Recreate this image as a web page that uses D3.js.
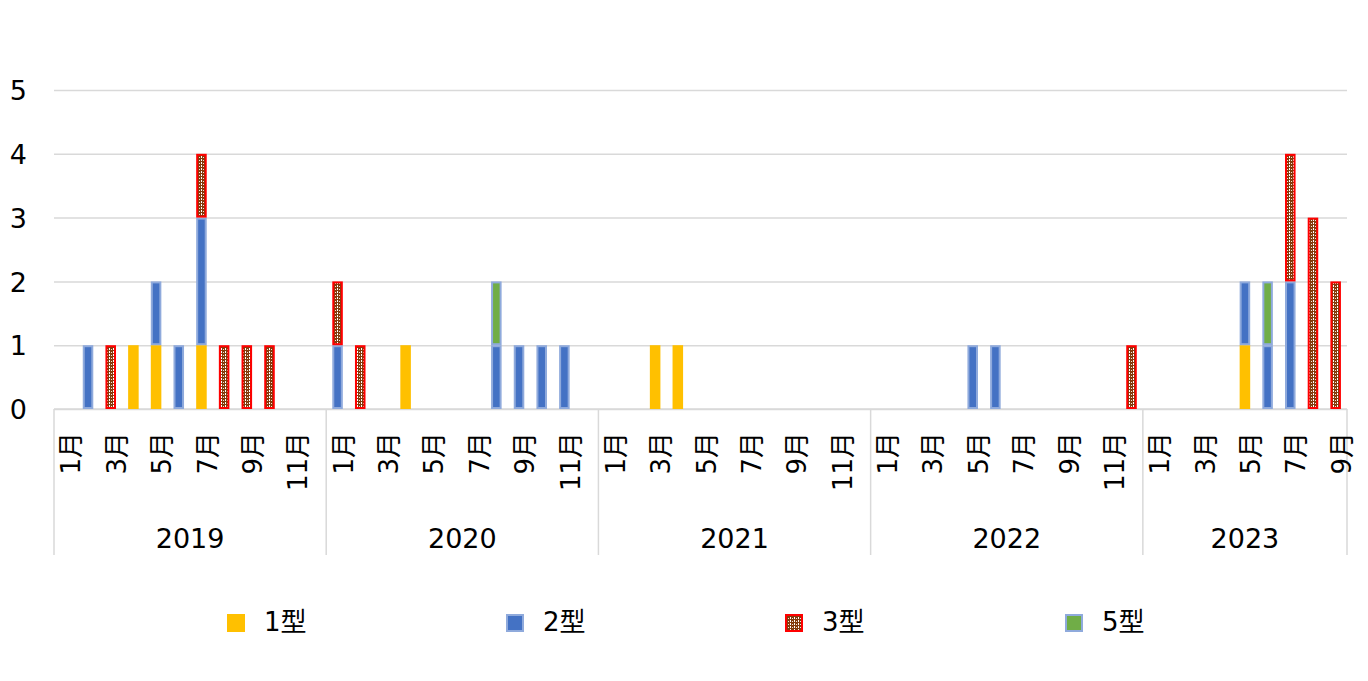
<!DOCTYPE html>
<html>
<head>
<meta charset="utf-8">
<script src="https://cdn.jsdelivr.net/npm/d3@7"></script>
<style>
  html, body { margin: 0; padding: 0; background: #fff; }
  svg { display: block; }
  text { font-family: "DejaVu Sans", "Noto Sans CJK JP", sans-serif; fill: #000; }
</style>
</head>
<body>
<svg id="chart" width="1368" height="681"></svg>
<script>
// ---- data ----
const years = ["2019", "2020", "2021", "2022", "2023"];
const monthsPerYear = [12, 12, 12, 12, 9];
const seriesNames = ["1型", "2型", "3型", "5型"];

// monthly counts, Jan 2019 .. Sep 2023
const type1 = [
  0,0,0,1,1,0,1,0,0,0,0,0,
  0,0,0,1,0,0,0,0,0,0,0,0,
  0,0,1,1,0,0,0,0,0,0,0,0,
  0,0,0,0,0,0,0,0,0,0,0,0,
  0,0,0,0,1,0,0,0,0
];
const type2 = [
  0,1,0,0,1,1,2,0,0,0,0,0,
  1,0,0,0,0,0,0,1,1,1,1,0,
  0,0,0,0,0,0,0,0,0,0,0,0,
  0,0,0,0,1,1,0,0,0,0,0,0,
  0,0,0,0,1,1,2,0,0
];
const type3 = [
  0,0,1,0,0,0,1,1,1,1,0,0,
  1,1,0,0,0,0,0,0,0,0,0,0,
  0,0,0,0,0,0,0,0,0,0,0,0,
  0,0,0,0,0,0,0,0,0,0,0,1,
  0,0,0,0,0,0,2,3,2
];
const type5 = [
  0,0,0,0,0,0,0,0,0,0,0,0,
  0,0,0,0,0,0,0,1,0,0,0,0,
  0,0,0,0,0,0,0,0,0,0,0,0,
  0,0,0,0,0,0,0,0,0,0,0,0,
  0,0,0,0,0,1,0,0,0
];
const yTicks = [0, 1, 2, 3, 4, 5];

// ---- build table ----
const rows = [];
years.forEach((yr, yi) => {
  for (let m = 1; m <= monthsPerYear[yi]; m++) {
    const i = rows.length;
    rows.push({ key: yr + "-" + m, year: yr, month: m,
      "1型": type1[i], "2型": type2[i], "3型": type3[i], "5型": type5[i] });
  }
});

const svg = d3.select("#chart");
const L = 54, R = 1347, T = 90, B = 409;

// pattern for 3型
const defs = svg.append("defs");
const pat = defs.append("pattern").attr("id", "p3").attr("patternUnits", "userSpaceOnUse")
  .attr("width", 4).attr("height", 3);
pat.append("rect").attr("width", 4).attr("height", 3).attr("fill", "#843C0C");
pat.append("rect").attr("x", 1).attr("y", 0).attr("width", 1).attr("height", 2).attr("fill", "#fff");
pat.append("rect").attr("x", 3).attr("y", 1).attr("width", 1).attr("height", 1).attr("fill", "#f3e6dc");

const styles = {
  "1型": { fill: "#FFC000", stroke: "none", sw: 0 },
  "2型": { fill: "#4472C4", stroke: "#8FAADC", sw: 2 },
  "3型": { fill: "url(#p3)", stroke: "#FF0000", sw: 2 },
  "5型": { fill: "#70AD47", stroke: "#8FAADC", sw: 2 }
};

const x = d3.scaleBand().domain(rows.map(d => d.key)).range([L, R])
  .paddingInner(0.535).paddingOuter(0.2675);
const y = d3.scaleLinear().domain([0, 5]).range([B, T]);

// gridlines + y labels
const yAxis = svg.append("g").attr("transform", `translate(${L},0)`)
  .call(d3.axisLeft(y).tickValues(yTicks).tickSize(-(R - L)).tickPadding(27).tickFormat(d3.format("d")));
yAxis.select(".domain").remove();
yAxis.selectAll(".tick line").attr("stroke", "#d9d9d9").attr("stroke-width", 1.5);
yAxis.selectAll(".tick text").style("font-size", "27px").attr("dy", "0.36em");

// bottom axis line
svg.append("line").attr("x1", L).attr("x2", R).attr("y1", B).attr("y2", B)
  .attr("stroke", "#d9d9d9").attr("stroke-width", 1.5);

// year separators
const yearStarts = [];
let acc = 0;
monthsPerYear.forEach(n => { yearStarts.push(acc); acc += n; });
const step = x.step();
const sepX = yearStarts.map(s => x(rows[s].key) - (step - x.bandwidth()) / 2).concat([R]);
svg.selectAll(".sep").data(sepX).join("line").attr("class", "sep")
  .attr("x1", d => d).attr("x2", d => d).attr("y1", B).attr("y2", 555)
  .attr("stroke", "#d9d9d9").attr("stroke-width", 1.5);

// stacked bars
const stack = d3.stack().keys(seriesNames)(rows);
const bw = x.bandwidth();
stack.forEach(layer => {
  const st = styles[layer.key];
  svg.append("g").selectAll("rect").data(layer.filter(d => d[1] > d[0])).join("rect")
    .attr("x", d => x(d.data.key) + st.sw / 2)
    .attr("y", d => y(d[1]) + st.sw / 2)
    .attr("width", bw - st.sw)
    .attr("height", d => y(d[0]) - y(d[1]) - st.sw)
    .attr("fill", st.fill)
    .attr("stroke", st.stroke)
    .attr("stroke-width", st.sw);
});

// month labels (odd months)
const xAxis = svg.append("g").attr("transform", `translate(0,${B})`)
  .call(d3.axisBottom(x).tickSize(0).tickFormat(k => {
    const m = +k.split("-")[1];
    return m % 2 === 1 ? m + "月" : "";
  }));
xAxis.select(".domain").remove();
xAxis.selectAll(".tick text")
  .style("font-size", "26px")
  .attr("text-anchor", "end")
  .attr("transform", "translate(6,23) rotate(-90)")
  .attr("x", 0).attr("y", 0).attr("dy", "0.35em");

// year labels
svg.selectAll(".yr").data(years).join("text").attr("class", "yr")
  .attr("x", (d, i) => (sepX[i] + sepX[i + 1]) / 2)
  .attr("y", 548)
  .attr("text-anchor", "middle")
  .style("font-size", "27px")
  .text(d => d);

// legend
const legX = [227, 506, 785, 1065];
const leg = svg.selectAll(".leg").data(seriesNames).join("g").attr("class", "leg")
  .attr("transform", (d, i) => `translate(${legX[i]},614)`);
leg.append("rect")
  .attr("x", d => styles[d].sw / 2).attr("y", d => styles[d].sw / 2)
  .attr("width", d => 18 - styles[d].sw).attr("height", d => 18 - styles[d].sw)
  .attr("fill", d => styles[d].fill).attr("stroke", d => styles[d].stroke)
  .attr("stroke-width", d => styles[d].sw);
leg.append("text").attr("x", 37).attr("y", 17).style("font-size", "26px").text(d => d);
</script>
</body>
</html>
